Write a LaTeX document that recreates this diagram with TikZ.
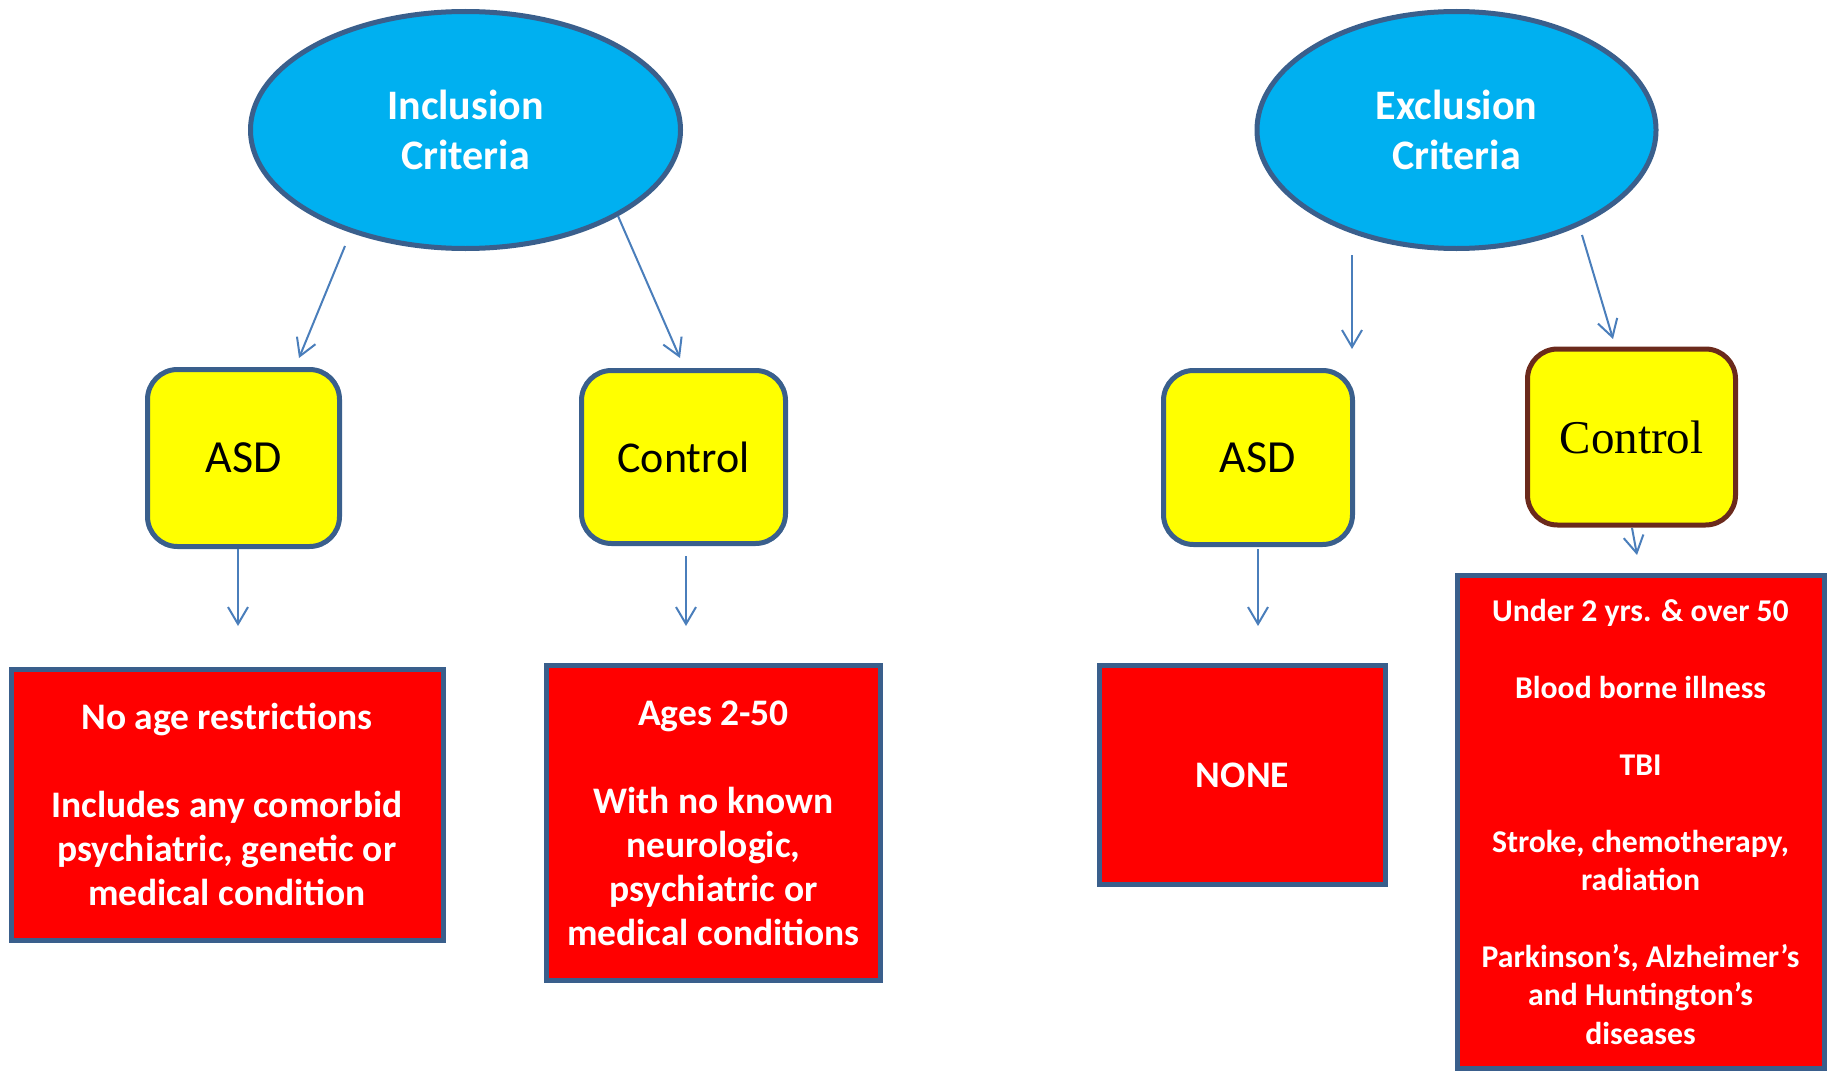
\documentclass[tikz,border=0pt]{standalone}
\usepackage{fontspec}
\setmainfont{Carlito}
\newfontfamily\ctlserif{Liberation Serif}
\usetikzlibrary{shapes.geometric,arrows.meta}
\definecolor{cyanfill}{HTML}{00B0F0}
\definecolor{bordblue}{HTML}{3A5F8C}
\definecolor{arrblue}{HTML}{4A7EBB}
\definecolor{brownb}{HTML}{6B2A1C}
\definecolor{yfill}{HTML}{FFFF00}
\tikzset{
  oval/.style={ellipse, draw=bordblue, fill=cyanfill, line width=5pt, inner sep=0pt,
    text=white, align=center, font=\bfseries\fontsize{42}{50}\selectfont},
  ybox/.style={rectangle, rounded corners=30pt, draw=bordblue, fill=yfill, line width=5pt,
    inner sep=0pt, align=center, font=\fontsize{46}{53}\selectfont},
  rbox/.style={rectangle, draw=bordblue, fill=red, line width=5pt, inner sep=0pt,
    text=white, align=center, font=\bfseries\fontsize{37.5}{44}\selectfont},
  arr/.style={draw=arrblue, line width=2pt, -{Straight Barb[length=17pt,width=20pt,line width=2pt]}}
}
\begin{document}
\begin{tikzpicture}[x=1pt,y=-1pt]
\useasboundingbox (0,0) rectangle (1833,1073);
% ellipses
\node[oval, minimum width=430pt, minimum height=237pt] (incl) at (465.5,130) {Inclusion\\Criteria};
\node[oval, minimum width=399pt, minimum height=237pt] (excl) at (1456.5,130) {Exclusion\\Criteria};
% yellow boxes
\node[ybox, minimum width=192pt, minimum height=177pt] (asd1) at (243.5,458) {ASD};
\node[ybox, minimum width=204pt, minimum height=173pt, font=\fontsize{44}{53}\selectfont] (ctl1) at (683.5,457) {Control};
\node[ybox, minimum width=189pt, minimum height=174pt] (asd2) at (1258,457.5) {ASD};
\node[ybox, draw=brownb, minimum width=208pt, minimum height=176pt,
  font=\ctlserif\fontsize{47}{53}\selectfont] (ctl2) at (1631.5,437) {Control};
% red boxes
\node[rbox, minimum width=432pt, minimum height=271pt] (red1) at (227,804.5)
  {No age restrictions\\[44pt]Includes any comorbid\\psychiatric, genetic or\\medical condition};
\node[rbox, minimum width=334pt, minimum height=315pt] (red2) at (713.5,823)
  {Ages 2-50\\[44pt]With no known\\neurologic,\\psychiatric or\\medical conditions};
\node[rbox, minimum width=286pt, minimum height=219pt] (red3) at (1242.5,775) {NONE};
\node[rbox, minimum width=367pt, minimum height=493pt,
  font=\bfseries\fontsize{31.7}{38.4}\selectfont] (red4) at (1640.5,822)
  {Under 2 yrs. \& over 50\\[38.4pt]Blood borne illness\\[38.4pt]TBI\\[38.4pt]Stroke, chemotherapy,\\radiation\\[38.4pt]Parkinson’s, Alzheimer’s\\and Huntington’s\\diseases};
% arrow end coordinates
\coordinate (a1s) at (345,246);  \coordinate (a1e) at (299,358);
\coordinate (a2s) at (618,216);  \coordinate (a2e) at (680,358);
\coordinate (a3s) at (238,549);  \coordinate (a3e) at (238,626);
\coordinate (a4s) at (686,556);  \coordinate (a4e) at (686,626);
\coordinate (a5s) at (1352,255); \coordinate (a5e) at (1352,349);
\coordinate (a6s) at (1582,235); \coordinate (a6e) at (1613,339);
\coordinate (a7s) at (1258,549); \coordinate (a7e) at (1258,626);
\coordinate (a8s) at (1632,528); \coordinate (a8e) at (1637,555);
\draw[arr] (a1s) -- (a1e);
\draw[arr] (a2s) -- (a2e);
\draw[arr] (a3s) -- (a3e);
\draw[arr] (a4s) -- (a4e);
\draw[arr] (a5s) -- (a5e);
\draw[arr] (a6s) -- (a6e);
\draw[arr] (a7s) -- (a7e);
\draw[arr] (a8s) -- (a8e);
\end{tikzpicture}
\end{document}
